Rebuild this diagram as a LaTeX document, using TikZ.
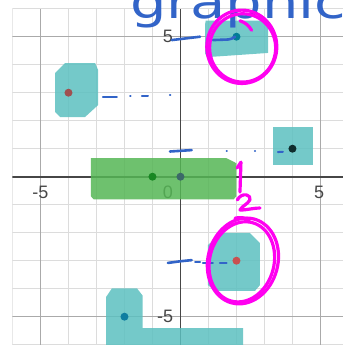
\documentclass[tikz,border=0pt]{standalone}
\usepackage{fontspec}
\newfontfamily\labfont{Liberation Sans}
\newfontfamily\handfont{DejaVu Sans}
\definecolor{gridlight}{RGB}{220,220,220}
\definecolor{gridmajor}{RGB}{170,170,170}
\definecolor{axiscol}{RGB}{70,70,70}
\definecolor{labcol}{RGB}{70,70,70}
\definecolor{tealhl}{RGB}{92,192,192}
\definecolor{greenhl}{RGB}{85,182,85}
\definecolor{inkblue}{RGB}{50,100,200}
\definecolor{inkmag}{RGB}{255,0,240}
\tikzset{
  gridthin/.style={draw=gridlight,line width=1.1pt},
  gridfive/.style={draw=gridmajor,line width=1.2pt},
  axisline/.style={draw=axiscol,line width=1.6pt},
  ticklab/.style={font=\labfont\fontsize{18}{18}\selectfont,text=labcol,inner sep=0pt},
  hlteal/.style={fill=tealhl,fill opacity=0.85,draw=none},
  hlgreen/.style={fill=greenhl,fill opacity=0.85,draw=none},
  pt/.style={circle,inner sep=0pt,minimum size=8pt,draw=none},
  bluepen/.style={draw=inkblue,line width=2.6pt,line cap=round},
  bluedot/.style={draw=inkblue,line width=2pt,line cap=round},
  magpen/.style={draw=inkmag,line width=3.2pt,line cap=round,line join=round},
}
\begin{document}
\begin{tikzpicture}[x=28pt,y=28pt]
\clip (-6.446,-6.011) rectangle (5.804,6.311);
\useasboundingbox (-6.446,-6.011) rectangle (5.804,6.311);
% grid
\begin{scope}
\clip (-6.0,-6.1) rectangle (5.9,6.0);
\foreach \i in {-6,-4,-3,-2,-1,1,2,3,4} {
  \draw[gridthin] (\i,-6.1) -- (\i,6.0);
  \draw[gridthin] (-6.0,\i) -- (5.9,\i);
}
\draw[gridthin] (-6.0,6) -- (5.9,6);
\foreach \i in {-5,5} {
  \draw[gridfive] (\i,-6.1) -- (\i,6.0);
  \draw[gridfive] (-6.0,\i) -- (5.9,\i);
}
\draw[axisline] (0,-6.1) -- (0,6.0);
\draw[axisline] (-6.0,0) -- (5.9,0);
\end{scope}
% labels
\node[ticklab] (xm5) at (-5.0,-0.57) {-5};
\node[ticklab] (x0) at (-0.45,-0.57) {0};
\node[ticklab] (x5) at (4.95,-0.57) {5};
\node[ticklab] (y5) at (-0.45,5.0) {5};
\node[ticklab] (ym5) at (-0.55,-5.0) {-5};
% highlighter patches
\fill[hlteal] (0.90,5.57) -- (3.10,5.57) -- (3.13,5.45) -- (3.13,4.42) -- (0.95,4.27) -- (0.88,4.40) -- (0.88,5.45) -- cycle;
\fill[hlteal] (-4.48,3.70) -- (-4.125,4.06) -- (-3.05,4.06) -- (-2.94,3.81) -- (-2.94,2.56) -- (-3.41,2.13) -- (-4.30,2.13) -- (-4.48,2.31) -- cycle;
\fill[hlteal] (3.31,1.76) rectangle (4.74,0.41);
\fill[hlgreen] (-3.2,0.66) -- (1.65,0.66) -- (2.0,0.48) -- (2.0,-0.69) -- (1.9,-0.81) -- (-3.1,-0.81) -- (-3.2,-0.70) -- cycle;
\fill[hlteal] (0.98,-2.44) -- (1.48,-2.01) -- (2.48,-2.01) -- (2.84,-2.37) -- (2.84,-3.87) -- (2.66,-4.08) -- (1.23,-4.08) -- (0.98,-3.87) -- cycle;
\fill[hlteal] (-2.66,-4.30) -- (-2.45,-3.99) -- (-1.55,-3.99) -- (-1.35,-4.25) -- (-1.35,-5.41) -- (2.24,-5.41) -- (2.24,-6.1) -- (-2.66,-6.1) -- cycle;
% points
\node[pt,fill={rgb,255:red,0;green,125;blue,150}] (p1) at (2,5) {};
\node[pt,fill={rgb,255:red,160;green,80;blue,80}] (p2) at (-4,3) {};
\node[pt,fill={rgb,255:red,15;green,45;blue,45}] (p3) at (4,1) {};
\node[pt,fill={rgb,255:red,25;green,135;blue,35}] (p4) at (-1,0) {};
\node[pt,fill={rgb,255:red,60;green,105;blue,105}] (p5) at (0,0) {};
\node[pt,fill={rgb,255:red,200;green,80;blue,80}] (p6) at (2,-3) {};
\node[pt,fill={rgb,255:red,15;green,125;blue,160}] (p7) at (-2,-5) {};
% blue handwriting
\node[anchor=base west,inner sep=0pt,text depth=0pt,text=inkblue,font=\handfont\fontsize{46}{46}\selectfont,xscale=1.25] (title) at (-1.80,5.64) {graphic};
\draw[bluepen] (-0.31,4.88) -- (0.70,5.0);
\draw[bluepen] (1.16,4.88) -- (1.70,4.90) to[out=0,in=-150] (1.95,5.0);
\draw[bluedot] (-2.77,2.85) -- (-2.27,2.85);
\draw[bluedot] (-1.80,2.88) -- (-1.78,2.88);
\draw[bluedot] (-1.375,2.88) -- (-1.16,2.88);
\draw[bluedot] (-0.375,2.92) -- (-0.36,2.92);
\draw[bluepen] (-0.375,0.90) -- (0.40,0.95);
\draw[bluedot] (1.65,0.92) -- (1.66,0.92);
\draw[bluedot] (2.66,0.93) -- (2.67,0.93);
\draw[bluedot] (3.48,0.88) -- (3.66,0.89);
\draw[bluepen] (-0.45,-3.08) -- (0.0,-3.02) -- (0.40,-2.98);
\draw[bluedot] (0.52,-3.04) -- (0.70,-3.04);
\draw[bluedot] (0.80,-3.07) -- (1.16,-3.07);
\draw[bluedot] (1.41,-3.07) -- (1.65,-3.07);
% magenta circles
\draw[magpen] (2.19,4.64) ellipse [x radius=1.25,y radius=1.31];
\draw[magpen] (2.22,4.60) ellipse [x radius=1.18,y radius=1.22];
\draw[magpen] (2.125,5.57) to[out=-20,in=120] (2.54,5.23);
\draw[magpen,rotate around={-15:(2.23,-3.01)}] (2.23,-3.01) ellipse [x radius=1.25,y radius=1.55];
\draw[magpen,rotate around={-15:(2.23,-3.01)}] (2.20,-3.05) ellipse [x radius=1.15,y radius=1.45];
\draw[magpen] (1.95,-1.48) to[out=10,in=150] (2.45,-1.55);
% magenta 1/2
\draw[magpen] (2.02,0.31) -- (2.16,0.52) -- (2.125,-0.55);
\draw[magpen] (2.03,-0.83) to[out=60,in=170] (2.36,-0.65) to[out=-10,in=60] (2.48,-0.83) to[out=-120,in=60] (2.125,-1.19) to[out=0,in=180] (2.84,-1.12);
\end{tikzpicture}
\end{document}
